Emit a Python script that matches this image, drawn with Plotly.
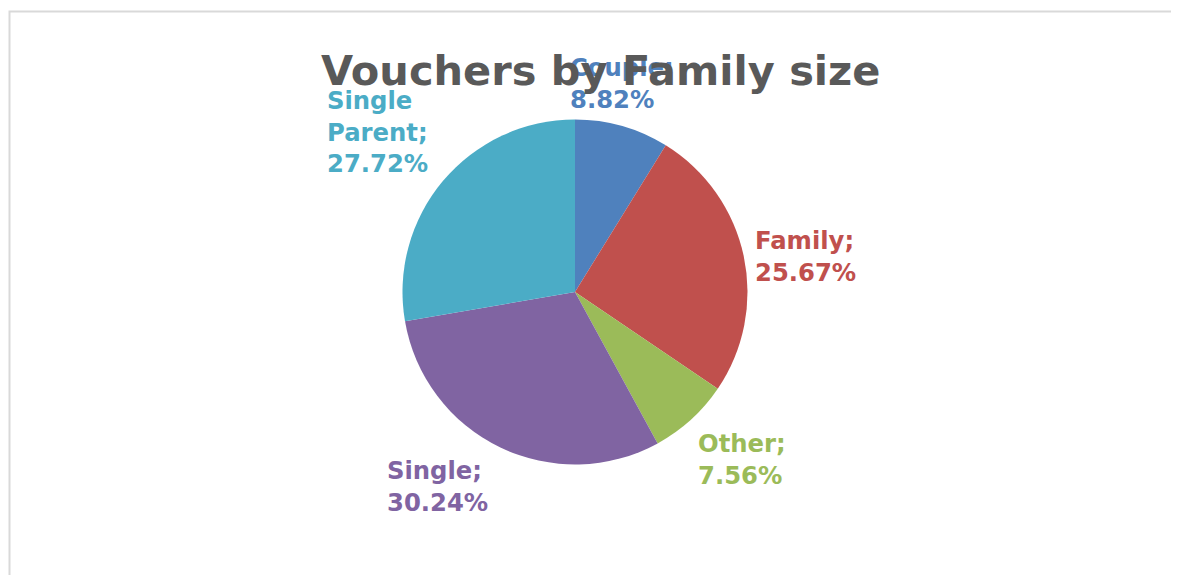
import plotly.graph_objects as go

categories = ["Couple", "Family", "Other", "Single", "Single Parent"]
percentages = [8.82, 25.67, 7.56, 30.24, 27.72]
colors = ["#4F81BD", "#C0504D", "#9BBB59", "#8064A2", "#4BACC6"]
label_lines = ["Couple;", "Family;", "Other;", "Single;", "Single<br>Parent;"]
title_text = "Vouchers by Family size"

W, H = 1190, 575
OFF = 8  # page body margin offset
def px(x):
    return (x - OFF) / W
def py(y):
    return 1 - (y - OFF) / H

# pie geometry (screen pixels)
cx, cy, r = 575, 292, 172.5

fig = go.Figure()
fig.add_trace(go.Pie(
    labels=categories,
    values=percentages,
    sort=False,
    direction="clockwise",
    rotation=0,
    marker=dict(colors=colors, line=dict(width=0)),
    textinfo="none",
    hoverinfo="label+percent",
    showlegend=False,
    domain=dict(x=[px(cx - r), px(cx + r)], y=[py(cy + r), py(cy - r)]),
))

# label positions (left x, block center y) in screen pixels
label_pos = [(568, 83), (753, 256), (696, 459), (385, 486), (325, 132)]

annotations = []
for name, lines, val, col, (lx, ly) in zip(categories, label_lines, percentages, colors, label_pos):
    annotations.append(dict(
        text=f"{lines}<br>{val:.2f}%",
        x=px(lx), y=py(ly), xref="paper", yref="paper",
        xanchor="left", yanchor="middle", align="left",
        showarrow=False,
        font=dict(family="DejaVu Sans", size=24.3, color=col, weight="bold"),
    ))

annotations.append(dict(
    text=f"<b>{title_text}</b>",
    x=px(600), y=py(71), xref="paper", yref="paper",
    xanchor="center", yanchor="middle", showarrow=False,
    font=dict(family="DejaVu Sans", size=41.5, color="#595959"),
))

fig.update_layout(
    width=W, height=H,
    margin=dict(l=0, r=0, t=0, b=0),
    paper_bgcolor="white",
    plot_bgcolor="white",
    annotations=annotations,
    shapes=[dict(type="rect", xref="paper", yref="paper",
                 x0=px(9.5), x1=px(1195), y0=py(11.5), y1=py(640),
                 line=dict(color="#d9d9d9", width=2), layer="below")],
)

fig.write_html("out.html")
